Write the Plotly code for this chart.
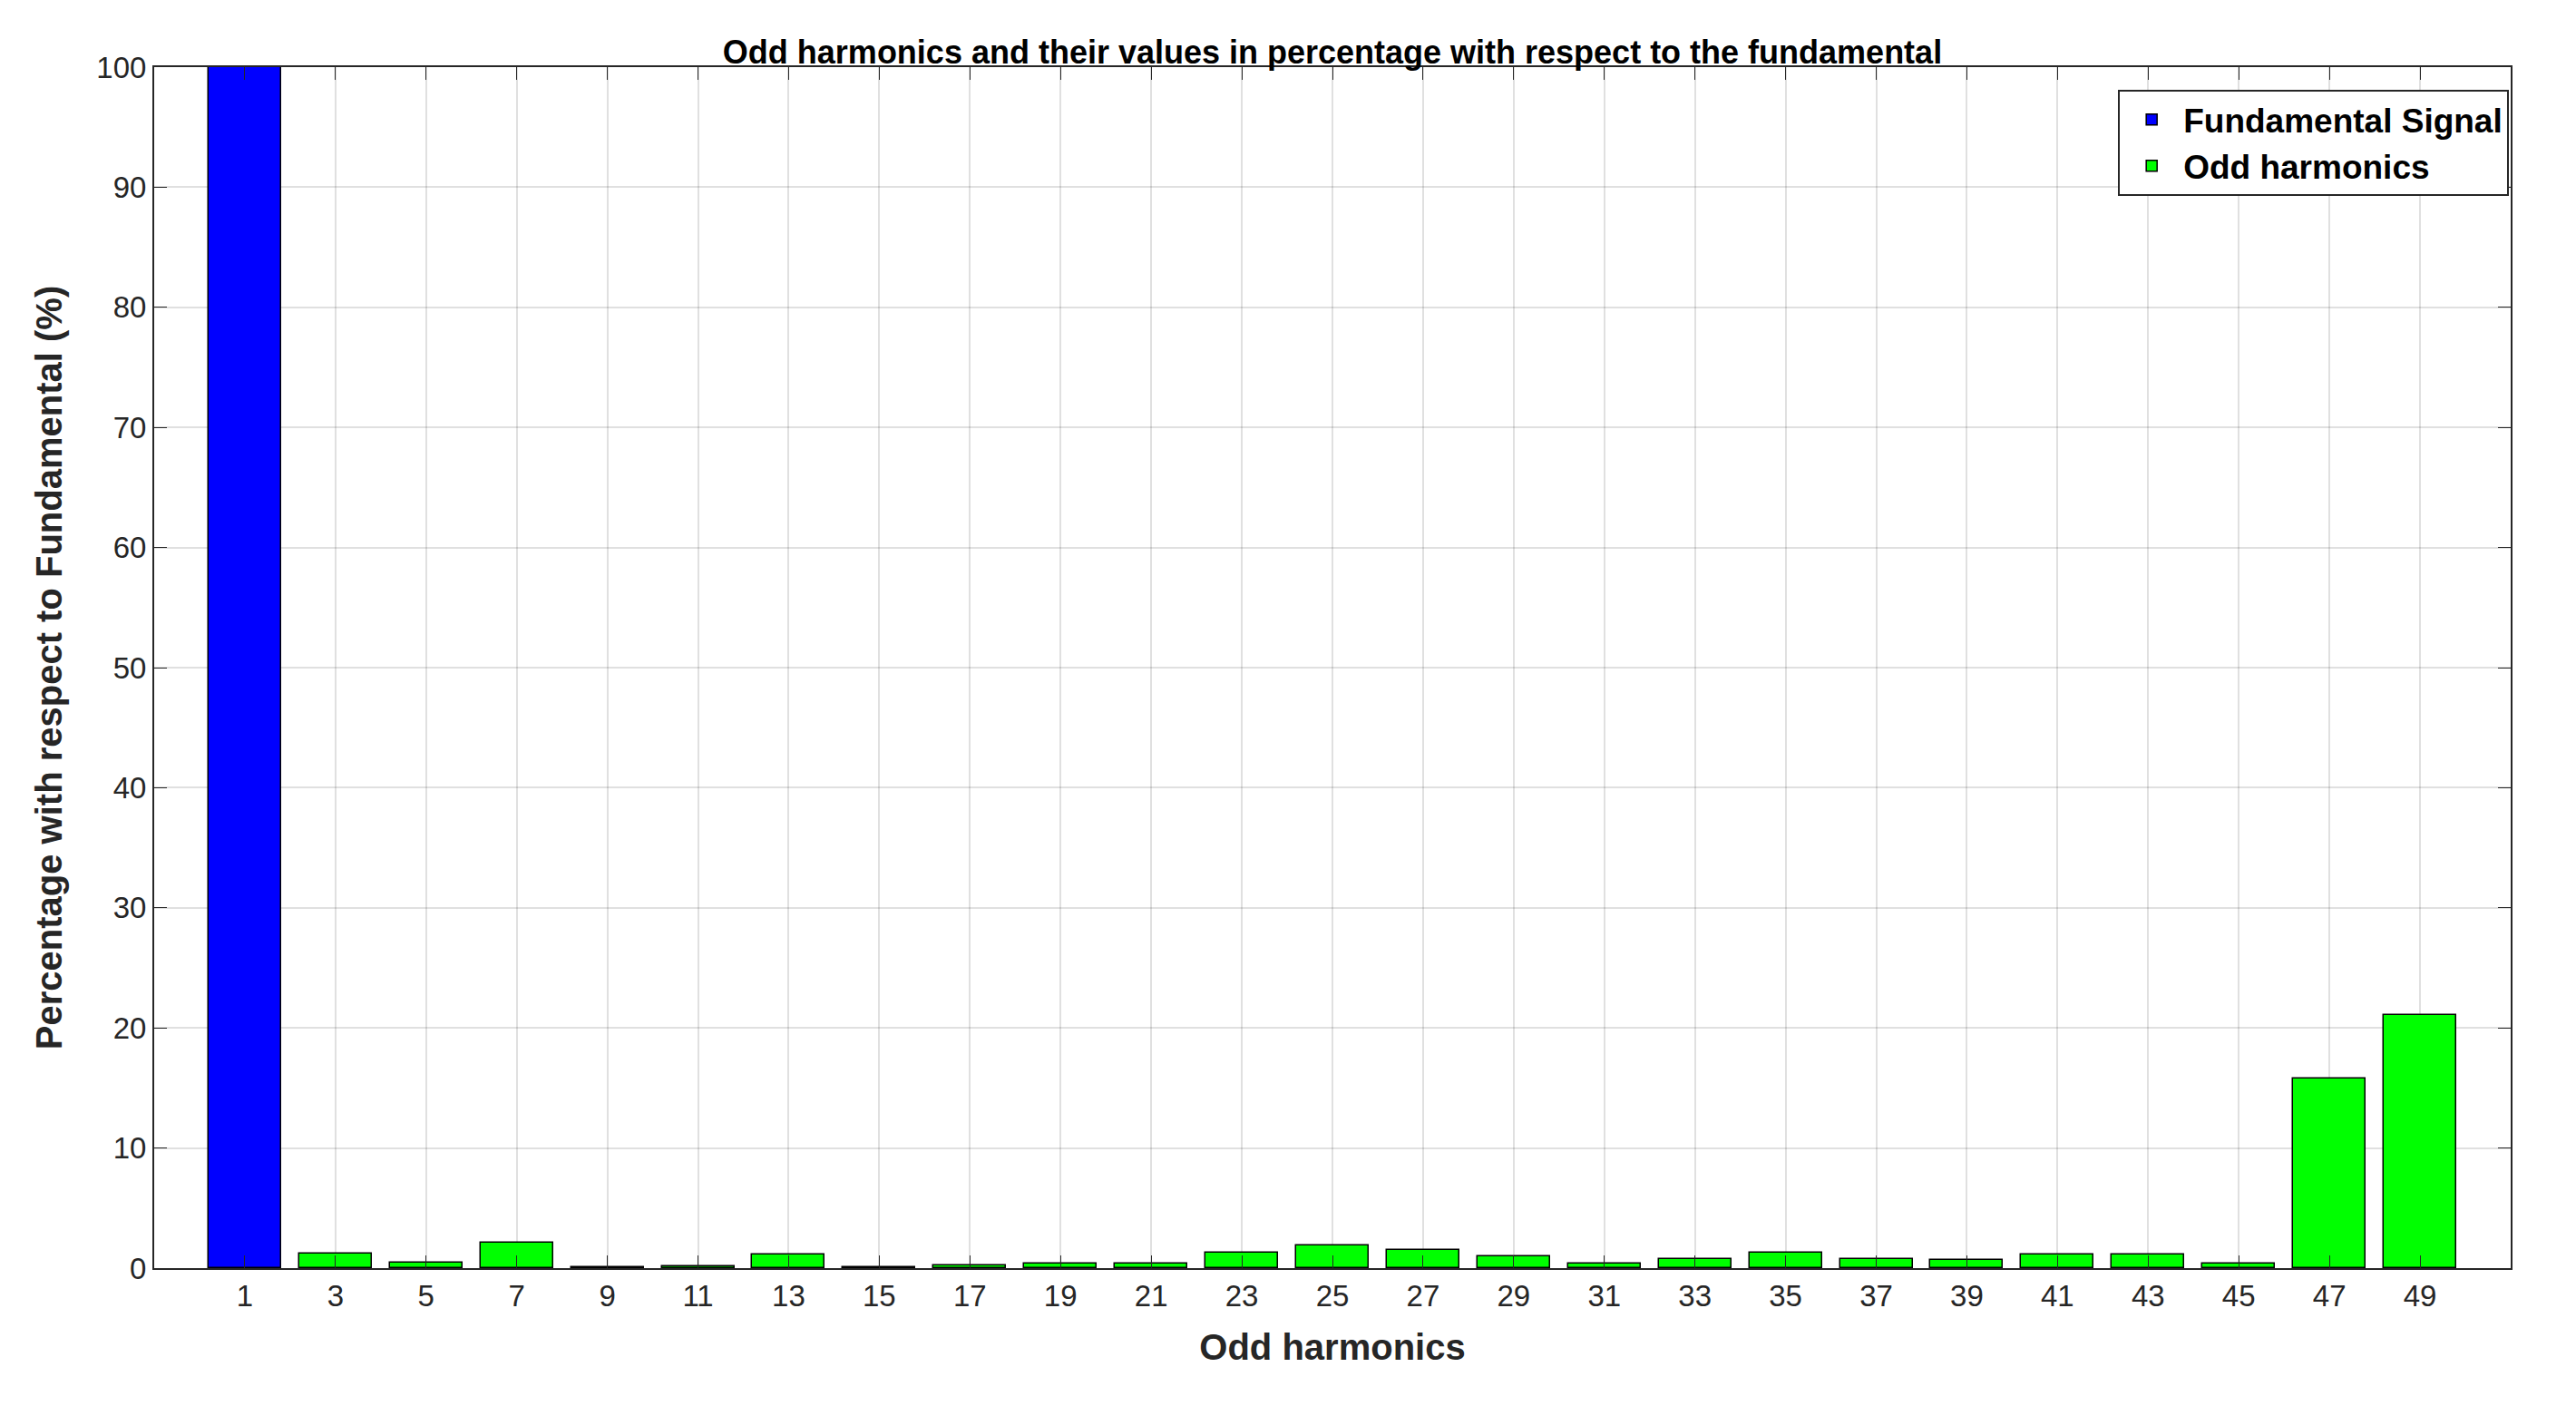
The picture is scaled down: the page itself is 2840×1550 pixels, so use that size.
import plotly.graph_objects as go

fund_x = [1]
fund_y = [100]
harm_x = list(range(3, 50, 2))
harm_y = [1.23, 0.45, 2.15, 0.08, 0.18, 1.15, 0.05, 0.26, 0.41, 0.36, 1.28, 1.92,
          1.5, 1.0, 0.41, 0.72, 1.28, 0.77, 0.69, 1.15, 1.15, 0.36, 15.8, 21.1]
xticks = list(range(1, 50, 2))
yticks = list(range(0, 101, 10))

fig = go.Figure()
fig.add_bar(x=fund_x, y=fund_y, name="<b>Fundamental Signal</b>", width=1.6,
            marker=dict(color="#0000FF", line=dict(color="black", width=1.5)))
fig.add_bar(x=harm_x, y=harm_y, name="<b>Odd harmonics</b>", width=1.6,
            marker=dict(color="#00FF00", line=dict(color="black", width=1.5)))

font = "Liberation Sans, Arial, sans-serif"
axcommon = dict(showline=True, linecolor="#262626", linewidth=2, mirror="allticks",
                ticks="inside", ticklen=14, tickcolor="#262626", showgrid=True,
                gridcolor="rgba(0,0,0,0.12)", gridwidth=1.5, zeroline=False,
                tickfont=dict(family=font, size=33, color="#262626"))
fig.update_layout(
    width=2840, height=1550, plot_bgcolor="white", paper_bgcolor="white",
    margin=dict(l=162, r=80, t=66, b=160), barmode="overlay", bargap=0,
    title=dict(text="<b>Odd harmonics and their values in percentage with respect to the fundamental</b>",
               x=0.5, xref="paper", y=1, yref="paper", yanchor="bottom", pad=dict(b=4),
               font=dict(family=font, size=36, color="black")),
    xaxis=dict(range=[-1, 51], tickvals=xticks,
               title=dict(text="<b>Odd harmonics</b>", font=dict(family=font, size=40, color="#262626"), standoff=25),
               **axcommon),
    yaxis=dict(range=[0, 100], tickvals=yticks,
               title=dict(text="<b>Percentage with respect to Fundamental (%)</b>", font=dict(family=font, size=40, color="#262626"), standoff=25),
               **axcommon),
    legend=dict(x=0.9993, xanchor="right", y=0.981, yanchor="top", bgcolor="white",
                bordercolor="#262626", borderwidth=2,
                font=dict(family=font, size=37, color="black"), itemwidth=60,
                tracegroupgap=0),
)
fig.write_html("out.html")
